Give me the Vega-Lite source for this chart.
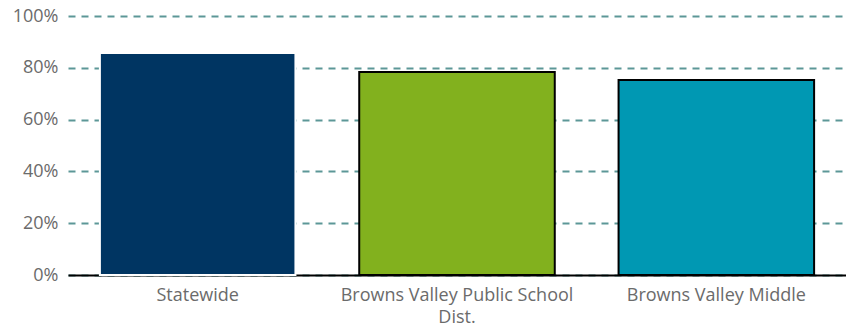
{
  "$schema": "https://vega.github.io/schema/vega-lite/v6.json",
  "width": 778,
  "height": 259,
  "autosize": {"type": "none"},
  "padding": {"left": 68, "top": 16, "right": 0, "bottom": 53},
  "background": "white",
  "config": {"view": {"stroke": null}, "font": "Open Sans"},
  "data": {"values": [
    {"name": "Statewide", "value": 0.857},
    {"name": "Browns Valley Public School Dist.", "value": 0.784},
    {"name": "Browns Valley Middle", "value": 0.753}
  ]},
  "mark": {"type": "bar", "strokeWidth": 2},
  "encoding": {
    "x": {"field": "name", "type": "nominal", "sort": null,
      "scale": {"paddingInner": 0.246, "paddingOuter": 0.123},
      "axis": {"title": null, "labelAngle": 0, "ticks": false, "domainColor": "black", "domainWidth": 2,
        "labelFontSize": 18, "labelColor": "#6b6b6b", "labelPadding": 11, "labelLimit": 400, "labelLineHeight": 22,
        "labelExpr": "datum.value == 'Browns Valley Public School Dist.' ? ['Browns Valley Public School', 'Dist.'] : datum.label"}},
    "y": {"field": "value", "type": "quantitative",
      "scale": {"domain": [0, 1], "nice": false},
      "axis": {"title": null, "format": ".0%", "values": [0, 0.2, 0.4, 0.6, 0.8, 1], "domain": false, "ticks": false,
        "labelFontSize": 18, "labelColor": "#6b6b6b", "labelPadding": 10,
        "gridColor": "#4a8c8c", "gridDash": [7, 6], "gridWidth": 2, "gridOpacity": 0.9}},
    "color": {"field": "name", "type": "nominal", "legend": null,
      "scale": {"domain": ["Statewide", "Browns Valley Public School Dist.", "Browns Valley Middle"],
        "range": ["#003562", "#82b11e", "#0098b3"]}},
    "stroke": {"condition": {"test": "datum.name == 'Statewide'", "value": "white"}, "value": "black"}
  }
}
